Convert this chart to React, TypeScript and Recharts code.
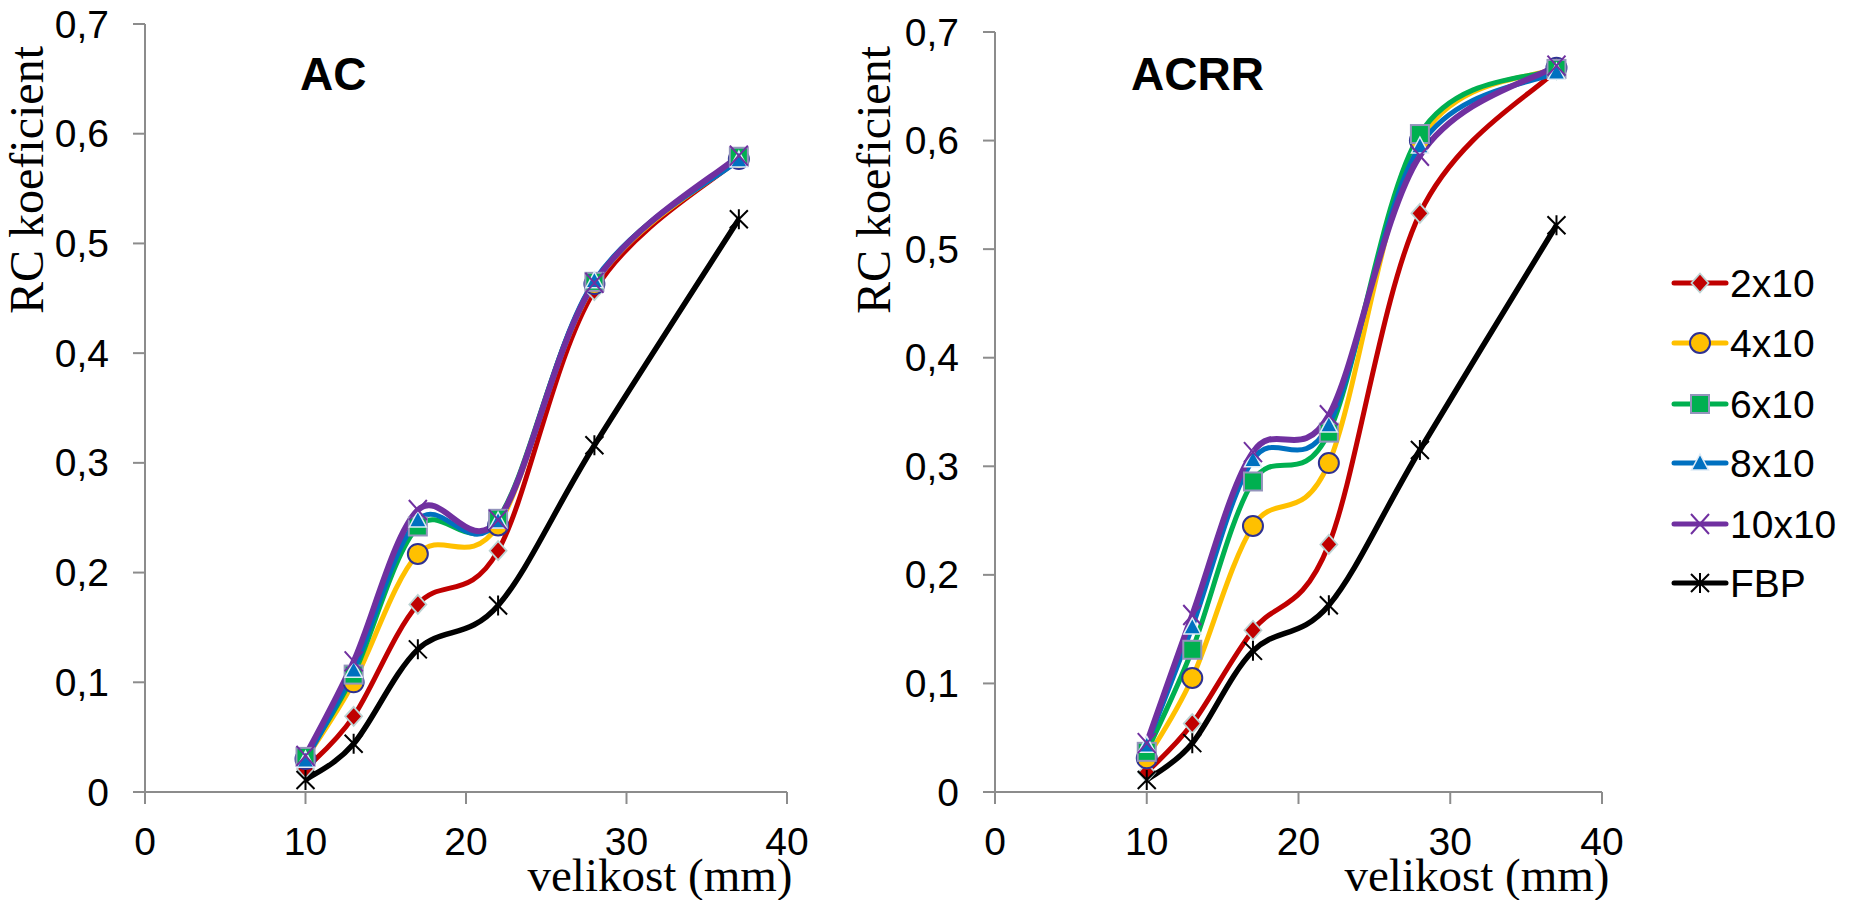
import React from 'react';
import { LineChart, Line, XAxis, YAxis } from 'recharts';

const sizes = [10, 13, 17, 22, 28, 37];
const xTicks = [0, 10, 20, 30, 40];
const yTicks = [0, 0.1, 0.2, 0.3, 0.4, 0.5, 0.6, 0.7];
const seriesNames = ['2x10', '4x10', '6x10', '8x10', '10x10', 'FBP'];
const seriesKeys = ['s2', 's4', 's6', 's8', 's10', 'fbp'];

// AC
const ac2x10 = [0.021, 0.069, 0.171, 0.22, 0.457, 0.577];
const ac4x10 = [0.03, 0.1, 0.217, 0.243, 0.463, 0.577];
const ac6x10 = [0.032, 0.107, 0.242, 0.249, 0.465, 0.579];
const ac8x10 = [0.029, 0.111, 0.248, 0.247, 0.466, 0.576];
const ac10x10 = [0.033, 0.119, 0.257, 0.248, 0.464, 0.58];
const acFBP = [0.011, 0.044, 0.13, 0.17, 0.316, 0.522];

// ACRR
const acrr2x10 = [0.018, 0.063, 0.149, 0.228, 0.533, 0.665];
const acrr4x10 = [0.031, 0.105, 0.245, 0.303, 0.6, 0.667];
const acrr6x10 = [0.037, 0.131, 0.286, 0.331, 0.606, 0.666];
const acrr8x10 = [0.043, 0.152, 0.306, 0.338, 0.595, 0.663];
const acrr10x10 = [0.045, 0.163, 0.313, 0.347, 0.586, 0.669];
const acrrFBP = [0.011, 0.045, 0.13, 0.172, 0.315, 0.522];

const colors = ['#C00000', '#FFC000', '#00B050', '#0070C0', '#7030A0', '#000000'];
const widths = [5, 5, 5, 5, 6, 5.5];
const kinds = ['diamond', 'circle', 'square', 'triangle', 'cross', 'star'];

const SANS = '"Liberation Sans", Arial, sans-serif';
const SERIF = '"Liberation Serif", "Times New Roman", serif';
const AXIS = '#8c8c8c';

const buildRows = (series: number[][]) =>
  sizes.map((s, i) => {
    const row: any = { size: s };
    series.forEach((arr, k) => (row[seriesKeys[k]] = arr[i]));
    return row;
  });

const acData = buildRows([ac2x10, ac4x10, ac6x10, ac8x10, ac10x10, acFBP]);
const acrrData = buildRows([acrr2x10, acrr4x10, acrr6x10, acrr8x10, acrr10x10, acrrFBP]);

// Excel-style smoothed line (Catmull-Rom through points)
const excelCurve = (context: any) => {
  let pts: number[][] = [];
  return {
    areaStart() {},
    areaEnd() {},
    lineStart() {
      pts = [];
    },
    point(x: number, y: number) {
      pts.push([+x, +y]);
    },
    lineEnd() {
      const n = pts.length;
      if (!n) return;
      context.moveTo(pts[0][0], pts[0][1]);
      for (let i = 0; i < n - 1; i++) {
        const p0 = pts[Math.max(i - 1, 0)];
        const p1 = pts[i];
        const p2 = pts[i + 1];
        const p3 = pts[Math.min(i + 2, n - 1)];
        context.bezierCurveTo(
          p1[0] + (p2[0] - p0[0]) / 6,
          p1[1] + (p2[1] - p0[1]) / 6,
          p2[0] - (p3[0] - p1[0]) / 6,
          p2[1] - (p3[1] - p1[1]) / 6,
          p2[0],
          p2[1]
        );
      }
    },
  };
};

function Marker({ kind, cx, cy }: any) {
  const t = `translate(${cx},${cy})`;
  switch (kind) {
    case 'diamond':
      return <path transform={t} d="M0,-9.5 L8.5,0 L0,9.5 L-8.5,0 Z" fill="#C00000" stroke="#BcD4D4" strokeWidth={1.8} />;
    case 'circle':
      return <circle transform={t} r={10} fill="#FFC000" stroke="#2E3192" strokeWidth={2} />;
    case 'square':
      return <rect transform={t} x={-9} y={-9} width={18} height={18} fill="#00B050" stroke="#9494BC" strokeWidth={2} />;
    case 'triangle':
      return <path transform={t} d="M0,-9 L8.5,7 L-8.5,7 Z" fill="#0070C0" stroke="#E0ECF6" strokeWidth={1.5} />;
    case 'cross':
      return <path transform={t} d="M-9,-10 L9,10 M-9,10 L9,-10" stroke="#7030A0" strokeWidth={2} fill="none" />;
    default:
      return <path transform={t} d="M-9,-9 L9,9 M-9,9 L9,-9 M0,-10 L0,10" stroke="#000" strokeWidth={2} fill="none" />;
  }
}

const fmt = (v: number) => (v === 0 ? '0' : v.toFixed(1).replace('.', ','));

function YTick(props: any) {
  const { x, y, payload } = props;
  return (
    <text x={x} y={y} textAnchor="end" dominantBaseline="central" fontSize={39} fontFamily={SANS} fill="#000">
      {fmt(payload.value)}
    </text>
  );
}

function XTick(props: any) {
  const { x, y, payload } = props;
  return (
    <text x={x} y={y} textAnchor="middle" dominantBaseline="central" fontSize={39} fontFamily={SANS} fill="#000">
      {payload.value}
    </text>
  );
}

function Panel({ data, left, width, top, yWidth, right }: any) {
  return (
    <div style={{ position: 'absolute', left, top: 0 }}>
      <LineChart width={width} height={900} data={data} margin={{ top, right, bottom: 0, left: 0 }}>
        <XAxis
          dataKey="size"
          type="number"
          domain={[0, 40]}
          ticks={xTicks}
          interval={0}
          height={108}
          tickSize={12}
          tickMargin={37}
          axisLine={{ stroke: AXIS, strokeWidth: 2 }}
          tickLine={{ stroke: AXIS, strokeWidth: 2 }}
          tick={<XTick />}
        />
        <YAxis
          type="number"
          domain={[0, 0.7]}
          ticks={yTicks}
          interval={0}
          width={yWidth}
          tickSize={12}
          tickMargin={24}
          axisLine={{ stroke: AXIS, strokeWidth: 2 }}
          tickLine={{ stroke: AXIS, strokeWidth: 2 }}
          tick={<YTick />}
        />
        {seriesKeys.map((k, i) => (
          <Line
            key={k}
            dataKey={k}
            name={seriesNames[i]}
            type={excelCurve as any}
            stroke={colors[i]}
            strokeWidth={widths[i]}
            isAnimationActive={false}
            activeDot={false}
            dot={(p: any) => <Marker key={`${k}-${p.index}`} kind={kinds[i]} cx={p.cx} cy={p.cy} />}
          />
        ))}
      </LineChart>
    </div>
  );
}

const legendRows = [283, 343, 404, 463, 524, 583];

export default function App() {
  return (
    <div style={{ position: 'absolute', left: 0, top: 0, width: 1857, height: 900, background: '#fff' }}>
      <Panel data={acData} left={0} width={820} top={24} yWidth={145} right={33} />
      <Panel data={acrrData} left={840} width={800} top={32} yWidth={155} right={38} />
      <svg width={1857} height={900} style={{ position: 'absolute', left: 0, top: 0, pointerEvents: 'none' }}>
        <text x={300} y={90} fontSize={46} fontWeight="bold" fontFamily={SANS} fill="#000">AC</text>
        <text x={1131} y={90} fontSize={46} fontWeight="bold" fontFamily={SANS} fill="#000">ACRR</text>
        <text transform="translate(43,180) rotate(-90)" textAnchor="middle" fontSize={48} fontFamily={SERIF} fill="#000">RC koeficient</text>
        <text transform="translate(890,180) rotate(-90)" textAnchor="middle" fontSize={48} fontFamily={SERIF} fill="#000">RC koeficient</text>
        <text x={660} y={891} textAnchor="middle" fontSize={47} fontFamily={SERIF} fill="#000">velikost (mm)</text>
        <text x={1477} y={891} textAnchor="middle" fontSize={47} fontFamily={SERIF} fill="#000">velikost (mm)</text>
        {seriesNames.map((name, i) => (
          <g key={name}>
            <line x1={1674} x2={1726} y1={legendRows[i]} y2={legendRows[i]} stroke={colors[i]} strokeWidth={5} strokeLinecap="round" />
            <Marker kind={kinds[i]} cx={1700} cy={legendRows[i]} />
            <text x={1730} y={legendRows[i]} dominantBaseline="central" fontSize={39} fontFamily={SANS} fill="#000">{name}</text>
          </g>
        ))}
      </svg>
    </div>
  );
}
